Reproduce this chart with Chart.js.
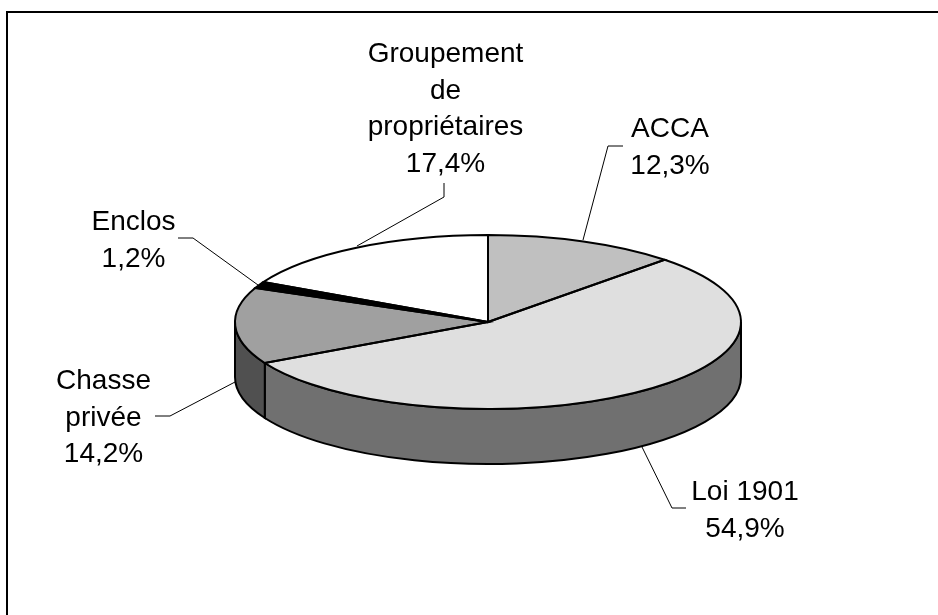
<!DOCTYPE html>
<html>
<head>
<meta charset="utf-8">
<style>
  html, body { margin: 0; padding: 0; background: #fff; }
  #wrap { width: 938px; height: 615px; }
</style>
</head>
<body>
<div id="wrap"><canvas id="pie" width="938" height="615"></canvas></div>
<script src="https://cdn.jsdelivr.net/npm/chart.js@4"></script>
<script>
const categories = ['ACCA', 'Loi 1901', 'Chasse privée', 'Enclos', 'Groupement de propriétaires'];
const shares = [12.3, 54.9, 14.2, 1.2, 17.4];
const topColors = ['#c0c0c0', '#dfdfdf', '#a0a0a0', '#000000', '#ffffff'];
const wallColors = ['#606060', '#707070', '#505050', '#000000', '#808080'];
const labelLines = [['ACCA'], ['Loi 1901'], ['Chasse', 'privée'], ['Enclos'], ['Groupement', 'de', 'propriétaires']];

// label anchors and leader lines, one per slice
const labelPos = [[670, 137], [745, 500], [103.5, 389], [133.5, 230], [445.5, 62]];
const leaders = [
    [[623, 146], [608, 146], [583, 240]],
    [[686, 508], [672, 508], [642, 447]],
    [[155, 416], [170, 416], [235, 382]],
    [[178, 238], [193, 238], [258, 285]],
    [[444, 183], [444, 197], [357, 246]]
];

const squash = 0.344;
const wallDepth = 55;

function formatShare(v) {
    return v.toFixed(1).replace('.', ',') + '%';
}

function squashed(ctx, x, y) {
    ctx.translate(x, y);
    ctx.scale(1, squash);
    ctx.translate(-x, -y);
}

const pie3d = {
    id: 'pie3d',
    beforeDraw(chart) {
        const ctx = chart.ctx;
        ctx.save();
        ctx.strokeStyle = '#000';
        ctx.lineWidth = 2;
        ctx.beginPath();
        ctx.moveTo(7, 615);
        ctx.lineTo(7, 12);
        ctx.lineTo(938, 12);
        ctx.stroke();
        ctx.restore();
    },
    beforeDatasetsDraw(chart) {
        const ctx = chart.ctx;
        // side wall, only the front half of the disc shows
        chart.getDatasetMeta(0).data.forEach((arc, i) => {
            const a0 = Math.max(arc.startAngle, 0);
            const a1 = Math.min(arc.endAngle, Math.PI);
            if (a1 <= a0) return;
            const ry = arc.outerRadius * squash;
            ctx.save();
            ctx.beginPath();
            ctx.ellipse(arc.x, arc.y, arc.outerRadius, ry, 0, a0, a1);
            ctx.ellipse(arc.x, arc.y + wallDepth, arc.outerRadius, ry, 0, a1, a0, true);
            ctx.closePath();
            ctx.fillStyle = wallColors[i];
            ctx.fill();
            ctx.strokeStyle = '#000';
            ctx.lineWidth = 2;
            ctx.stroke();
            ctx.restore();
        });
        const c = chart.getDatasetMeta(0).data[0];
        ctx.save();
        squashed(ctx, c.x, c.y);
    },
    afterDatasetsDraw(chart) {
        const ctx = chart.ctx;
        ctx.restore();
        // outlines get built under the squash but stroked without it
        chart.getDatasetMeta(0).data.forEach(arc => {
            ctx.save();
            squashed(ctx, arc.x, arc.y);
            ctx.beginPath();
            ctx.moveTo(arc.x, arc.y);
            ctx.arc(arc.x, arc.y, arc.outerRadius, arc.startAngle, arc.endAngle);
            ctx.closePath();
            ctx.restore();
            ctx.strokeStyle = '#000';
            ctx.lineWidth = 2;
            ctx.stroke();
        });
    },
    afterDraw(chart) {
        const ctx = chart.ctx;
        ctx.save();
        ctx.strokeStyle = '#000';
        ctx.lineWidth = 1;
        leaders.forEach(line => {
            ctx.beginPath();
            line.forEach((p, k) => k ? ctx.lineTo(p[0], p[1]) : ctx.moveTo(p[0], p[1]));
            ctx.stroke();
        });
        ctx.fillStyle = '#000';
        ctx.font = '28px "Liberation Sans", Arial, sans-serif';
        ctx.textAlign = 'center';
        ctx.textBaseline = 'alphabetic';
        labelLines.forEach((lines, i) => {
            const all = lines.concat(formatShare(shares[i]));
            all.forEach((t, k) => {
                ctx.fillText(t, labelPos[i][0], labelPos[i][1] + k * 36.5);
            });
        });
        ctx.restore();
    }
};

new Chart(document.getElementById('pie'), {
    type: 'pie',
    data: {
        labels: categories,
        datasets: [{
            data: shares,
            backgroundColor: topColors,
            borderWidth: 0
        }]
    },
    options: {
        responsive: false,
        animation: false,
        layout: { padding: { left: 235, right: 197, top: 69, bottom: 40 } },
        plugins: {
            legend: { display: false },
            tooltip: { enabled: false }
        }
    },
    plugins: [pie3d]
});
</script>
</body>
</html>
